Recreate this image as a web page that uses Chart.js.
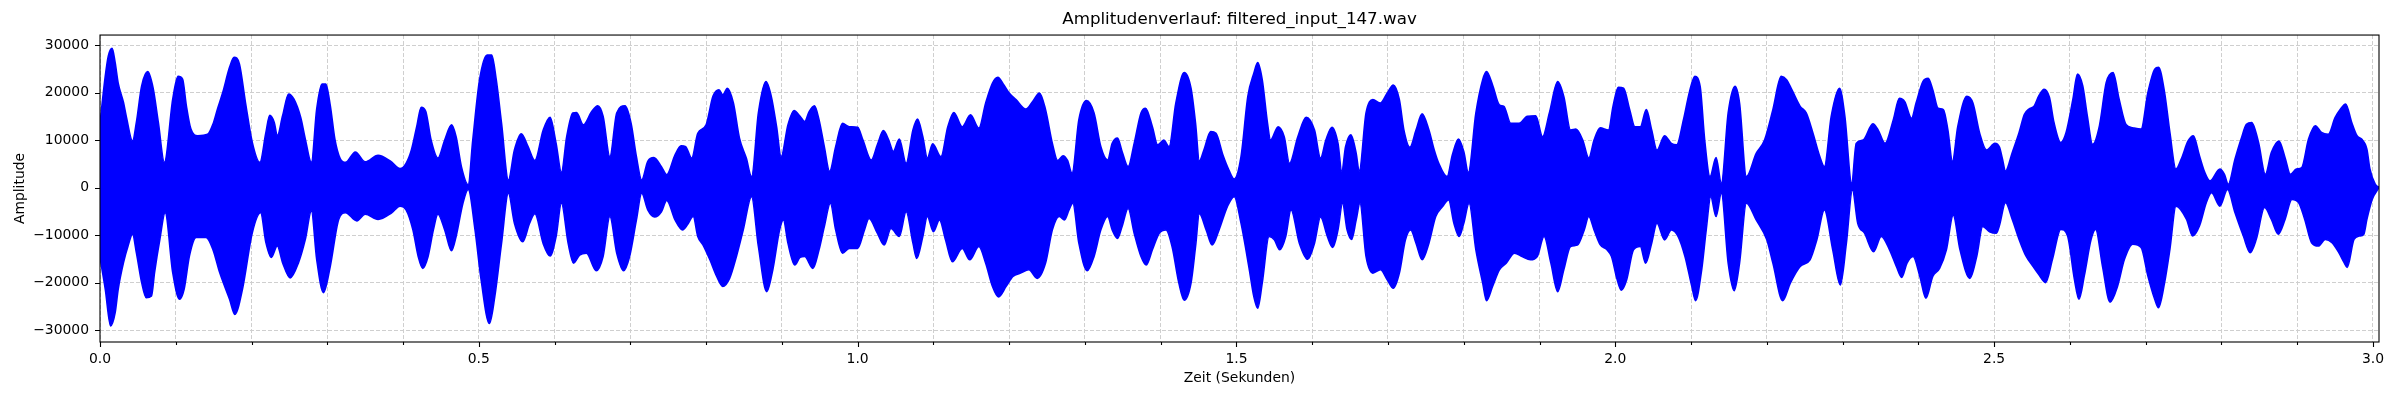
<!DOCTYPE html>
<html>
<head>
<meta charset="utf-8">
<title>Amplitudenverlauf</title>
<script src="https://cdn.jsdelivr.net/npm/chart.js@4.4.1/dist/chart.umd.min.js"></script>
<style>
  html, body { margin: 0; padding: 0; background: #fff; }
  #wrap { width: 2400px; height: 400px; }
</style>
</head>
<body>
<div id="wrap"><canvas id="waveChart" width="2400" height="400"></canvas></div>
<script>
// envelope of the waveform (seconds / amplitude)
const upperTimes = [
  0.000, 0.007, 0.011, 0.016, 0.020, 0.024, 0.031, 0.035, 0.043, 0.048, 0.055, 0.063, 0.070, 0.077, 0.085,
  0.096, 0.103, 0.109, 0.114, 0.120, 0.129, 0.142, 0.149, 0.155, 0.162, 0.171, 0.177, 0.184, 0.192, 0.201,
  0.211, 0.219, 0.224, 0.230, 0.234, 0.241, 0.249, 0.256, 0.265, 0.271, 0.279, 0.286, 0.293, 0.298, 0.304,
  0.310, 0.317, 0.324, 0.337, 0.350, 0.367, 0.383, 0.396, 0.404, 0.411, 0.418, 0.424, 0.430, 0.437, 0.446,
  0.455, 0.464, 0.470, 0.477, 0.486, 0.492, 0.501, 0.511, 0.517, 0.523, 0.530, 0.539, 0.547, 0.556, 0.565,
  0.574, 0.585, 0.594, 0.602, 0.609, 0.616, 0.624, 0.629, 0.638, 0.649, 0.657, 0.664, 0.673, 0.682, 0.693,
  0.701, 0.708, 0.715, 0.723, 0.731, 0.741, 0.748, 0.759, 0.767, 0.773, 0.781, 0.789, 0.800, 0.809, 0.817,
  0.822, 0.828, 0.836, 0.844, 0.853, 0.860, 0.869, 0.879, 0.886, 0.893, 0.899, 0.908, 0.916, 0.924, 0.930,
  0.936, 0.943, 0.949, 0.956, 0.963, 0.971, 0.980, 0.989, 1.000, 1.007, 1.018, 1.026, 1.034, 1.041, 1.047,
  1.055, 1.064, 1.073, 1.079, 1.086, 1.092, 1.099, 1.110, 1.119, 1.127, 1.138, 1.149, 1.160, 1.169, 1.178,
  1.185, 1.193, 1.200, 1.209, 1.222, 1.231, 1.240, 1.248, 1.257, 1.264, 1.271, 1.277, 1.283, 1.292, 1.302,
  1.312, 1.321, 1.330, 1.336, 1.343, 1.349, 1.357, 1.365, 1.374, 1.380, 1.389, 1.396, 1.404, 1.411, 1.420,
  1.431, 1.440, 1.446, 1.451, 1.457, 1.466, 1.473, 1.482, 1.490, 1.497, 1.506, 1.515, 1.523, 1.528, 1.534,
  1.541, 1.545, 1.555, 1.563, 1.570, 1.581, 1.592, 1.603, 1.611, 1.618, 1.626, 1.634, 1.639, 1.644, 1.651,
  1.658, 1.662, 1.671, 1.680, 1.690, 1.699, 1.707, 1.715, 1.721, 1.729, 1.737, 1.745, 1.754, 1.761, 1.767,
  1.778, 1.785, 1.793, 1.800, 1.806, 1.816, 1.825, 1.830, 1.838, 1.847, 1.853, 1.862, 1.873, 1.884, 1.895,
  1.904, 1.913, 1.924, 1.932, 1.941, 1.948, 1.957, 1.965, 1.972, 1.980, 1.991, 1.997, 2.004, 2.011, 2.019,
  2.026, 2.033, 2.041, 2.048, 2.055, 2.065, 2.074, 2.081, 2.090, 2.098, 2.105, 2.112, 2.118, 2.125, 2.133,
  2.140, 2.149, 2.158, 2.164, 2.173, 2.186, 2.197, 2.208, 2.219, 2.226, 2.233, 2.244, 2.252, 2.261, 2.270,
  2.276, 2.285, 2.296, 2.303, 2.312, 2.318, 2.327, 2.340, 2.347, 2.356, 2.367, 2.375, 2.382, 2.391, 2.397,
  2.406, 2.413, 2.419, 2.426, 2.433, 2.439, 2.445, 2.452, 2.464, 2.472, 2.481, 2.490, 2.501, 2.507, 2.511,
  2.515, 2.524, 2.533, 2.540, 2.546, 2.553, 2.559, 2.566, 2.573, 2.579, 2.588, 2.595, 2.604, 2.610, 2.617,
  2.623, 2.630, 2.639, 2.648, 2.657, 2.665, 2.674, 2.683, 2.694, 2.703, 2.712, 2.717, 2.725, 2.732, 2.740,
  2.747, 2.756, 2.763, 2.771, 2.778, 2.785, 2.798, 2.804, 2.809, 2.818, 2.826, 2.833, 2.840, 2.849, 2.858,
  2.866, 2.876, 2.884, 2.891, 2.899, 2.906, 2.915, 2.924, 2.932, 2.941, 2.950, 2.957, 2.964, 2.972, 2.979,
  2.985, 2.992, 2.996, 3.003, 3.008
];
const upperAmp = [
  13500, 23500, 27700, 29300, 26300, 22000, 17900, 14700, 9800, 13700, 21400, 24400, 21000, 13700, 5300,
  18600, 23400, 22800, 17200, 12300, 10900, 11200, 13300, 16500, 20000, 25300, 27400, 26000, 17900, 9500,
  5300, 11600, 15200, 13700, 10900, 15100, 19700, 18600, 14700, 10200, 5300, 16500, 21800, 21800, 17200,
  10200, 6100, 5300, 7500, 5400, 6800, 5600, 4000, 5100, 7900, 12800, 16900, 16000, 10000, 6200,
  10000, 13200, 10700, 4400, 600, 10000, 22700, 27900, 27900, 22700, 13500, 1600, 7900, 11300, 8600,
  5700, 12100, 14800, 9300, 3200, 10700, 15700, 15800, 13200, 16000, 17200, 15000, 6500, 15700, 17200,
  13500, 6500, 1600, 5500, 6300, 4400, 2700, 6900, 8800, 8600, 6200, 11400, 13200, 19200, 20600,
  19500, 20900, 17800, 10400, 6200, 2300, 15700, 22300, 19200, 12800, 6500, 13200, 16200, 15000, 13900,
  16000, 17200, 14300, 8600, 3400, 8600, 13500, 12800, 12700, 10000, 5800, 9000, 12000, 10000, 7600,
  10200, 5100, 12100, 14400, 10700, 6200, 9200, 6500, 12800, 15800, 12800, 15300, 12500, 17800, 22000,
  23200, 21600, 19900, 18500, 16500, 18100, 19900, 16400, 9300, 5700, 6700, 5700, 3000, 14300, 18300,
  15700, 8600, 5800, 9300, 10400, 7600, 4400, 9300, 15700, 16700, 12800, 9000, 10000, 8600, 17800,
  24200, 20900, 13500, 5600, 7900, 11800, 11400, 6900, 3700, 1800, 6500, 19200, 24100, 26300, 22700,
  13500, 10000, 12800, 10700, 5100, 10700, 14800, 12100, 6200, 10000, 12700, 9300, 3400, 8600, 11100,
  7200, 3400, 15700, 18500, 17800, 19900, 21600, 18500, 12100, 8500, 12100, 15500, 12100, 7900, 5100,
  2300, 6900, 10200, 7600, 3200, 15700, 22700, 24400, 21600, 17400, 17100, 13500, 13500, 15000, 15100,
  10700, 15700, 22300, 19200, 12100, 12300, 10000, 6200, 10000, 12600, 12100, 17100, 21100, 20900, 16400,
  12800, 12800, 16400, 12100, 7900, 10900, 9300, 9000, 14300, 20200, 23400, 21300, 10000, 2300, 6300,
  900, 15700, 21300, 17800, 2300, 7200, 10000, 16400, 23400, 22700, 20600, 17100, 15700, 11400, 6500,
  4400, 15000, 20900, 15000, 900, 9300, 10000, 13400, 12100, 9300, 14300, 18800, 18100, 14600, 17800,
  22300, 23000, 20600, 16700, 16400, 12100, 5500, 12800, 19200, 17800, 11400, 7900, 9300, 8500, 6000,
  3500, 7400, 11600, 15400, 16500, 17200, 19300, 20700, 19000, 13700, 9500, 11600, 18600, 23900, 21400,
  15100, 9100, 13000, 22100, 24200, 18600, 13300, 12600, 12300, 20000, 24900, 25300, 20000, 11600, 3900,
  6000, 9800, 10900, 6700, 3200, 1400, 3900, 2800, 700, 6000, 10200, 13300, 13700, 9500, 2800,
  7400, 9800, 6300, 2800, 3900, 4200, 10200, 13000, 11600, 11200, 14700, 16500, 17600, 13700, 10900,
  10200, 8100, 3900, 700, 0
];
const lowerTimes = [
  0.000, 0.007, 0.014, 0.020, 0.024, 0.031, 0.037, 0.043, 0.048, 0.055, 0.061, 0.068, 0.072, 0.079, 0.086,
  0.096, 0.105, 0.111, 0.118, 0.127, 0.140, 0.149, 0.158, 0.171, 0.178, 0.188, 0.201, 0.212, 0.219, 0.226,
  0.234, 0.241, 0.251, 0.262, 0.271, 0.279, 0.286, 0.295, 0.304, 0.315, 0.324, 0.339, 0.350, 0.367, 0.385,
  0.396, 0.404, 0.413, 0.420, 0.426, 0.433, 0.440, 0.446, 0.455, 0.464, 0.470, 0.479, 0.486, 0.495, 0.503,
  0.514, 0.521, 0.530, 0.539, 0.547, 0.558, 0.567, 0.574, 0.585, 0.594, 0.602, 0.609, 0.618, 0.625, 0.633,
  0.642, 0.655, 0.664, 0.673, 0.682, 0.691, 0.699, 0.708, 0.715, 0.723, 0.732, 0.741, 0.748, 0.759, 0.769,
  0.775, 0.783, 0.789, 0.796, 0.805, 0.814, 0.822, 0.831, 0.840, 0.849, 0.860, 0.869, 0.880, 0.888, 0.897,
  0.902, 0.908, 0.917, 0.924, 0.930, 0.941, 0.949, 0.956, 0.964, 0.971, 0.980, 0.989, 1.000, 1.009, 1.015,
  1.026, 1.035, 1.044, 1.055, 1.064, 1.073, 1.078, 1.086, 1.092, 1.100, 1.108, 1.116, 1.125, 1.138, 1.148,
  1.160, 1.169, 1.178, 1.186, 1.196, 1.205, 1.215, 1.226, 1.237, 1.248, 1.257, 1.266, 1.273, 1.279, 1.284,
  1.292, 1.303, 1.312, 1.321, 1.330, 1.336, 1.343, 1.349, 1.357, 1.365, 1.374, 1.381, 1.389, 1.398, 1.407,
  1.415, 1.424, 1.431, 1.440, 1.446, 1.451, 1.460, 1.468, 1.477, 1.488, 1.497, 1.506, 1.517, 1.523, 1.528,
  1.534, 1.543, 1.550, 1.557, 1.565, 1.572, 1.583, 1.594, 1.603, 1.611, 1.620, 1.627, 1.634, 1.640, 1.646,
  1.652, 1.658, 1.663, 1.671, 1.680, 1.690, 1.699, 1.707, 1.715, 1.723, 1.730, 1.737, 1.745, 1.754, 1.763,
  1.772, 1.780, 1.787, 1.794, 1.800, 1.807, 1.816, 1.825, 1.830, 1.838, 1.847, 1.856, 1.867, 1.877, 1.888,
  1.897, 1.906, 1.915, 1.924, 1.932, 1.941, 1.950, 1.959, 1.965, 1.972, 1.980, 1.989, 1.995, 2.002, 2.008,
  2.015, 2.024, 2.033, 2.040, 2.048, 2.055, 2.065, 2.074, 2.083, 2.092, 2.101, 2.106, 2.114, 2.120, 2.126,
  2.133, 2.140, 2.149, 2.157, 2.164, 2.173, 2.186, 2.200, 2.208, 2.221, 2.231, 2.244, 2.257, 2.266, 2.276,
  2.287, 2.297, 2.305, 2.313, 2.320, 2.329, 2.341, 2.351, 2.362, 2.371, 2.378, 2.385, 2.393, 2.402, 2.410,
  2.419, 2.428, 2.437, 2.446, 2.455, 2.468, 2.477, 2.485, 2.494, 2.503, 2.507, 2.515, 2.524, 2.533, 2.542,
  2.551, 2.559, 2.568, 2.577, 2.588, 2.597, 2.606, 2.612, 2.619, 2.628, 2.634, 2.643, 2.653, 2.663, 2.672,
  2.683, 2.694, 2.703, 2.712, 2.717, 2.725, 2.732, 2.740, 2.754, 2.762, 2.771, 2.780, 2.787, 2.798, 2.808,
  2.818, 2.829, 2.838, 2.846, 2.857, 2.866, 2.875, 2.884, 2.893, 2.902, 2.910, 2.919, 2.928, 2.937, 2.946,
  2.955, 2.962, 2.966, 2.975, 2.982, 2.988, 2.992, 2.999, 3.008
];
const lowerAmp = [
  -14700, -21400, -29100, -26300, -21400, -15800, -12300, -9800, -13700, -20000, -23200, -22800, -17900, -10900, -5300,
  -17900, -23500, -21400, -14400, -10500, -10500, -13000, -17900, -23500, -26700, -21400, -9500, -5300, -11600, -14700,
  -12300, -15800, -19000, -15800, -10900, -4900, -15100, -22100, -16500, -6700, -5300, -7000, -5600, -6700, -5300,
  -3900, -4700, -8900, -14500, -17000, -14500, -8900, -5600, -8900, -13300, -10300, -3300, -400, -8900, -19400,
  -28600, -23000, -11700, -1200, -7500, -11400, -7500, -5500, -11800, -14400, -10300, -3300, -11800, -15900, -14200,
  -13800, -17500, -14500, -6100, -13800, -17500, -14500, -6800, -1200, -4700, -6200, -5100, -2700, -6800, -8900,
  -7900, -6100, -10300, -12100, -15200, -18700, -20800, -19100, -14500, -8900, -1900, -12400, -21900, -17300, -8900,
  -6800, -11700, -16300, -14700, -14500, -17000, -13100, -8200, -3300, -8900, -13800, -12800, -12800, -8900, -6500,
  -9600, -12100, -8600, -10300, -5100, -11700, -14900, -10300, -6100, -9300, -6800, -11000, -15600, -12800, -15200,
  -12400, -15900, -20800, -23000, -20800, -18700, -18000, -17300, -19100, -15900, -8900, -6100, -6800, -4700, -3300,
  -11700, -17500, -14500, -8900, -6100, -8900, -10700, -8200, -4400, -9600, -14500, -16300, -13100, -9600, -8900,
  -12400, -20100, -23700, -20100, -12400, -5500, -8900, -12100, -8900, -4000, -1900, -7500, -17300, -23000, -25400,
  -20100, -10300, -11000, -13100, -10300, -4700, -11700, -15100, -11700, -6200, -10300, -12600, -8900, -3300, -8900,
  -10900, -6800, -3300, -14500, -18000, -17300, -19400, -21200, -18000, -11000, -8900, -11700, -15200, -11700, -6100,
  -4000, -2600, -7500, -10300, -7500, -3300, -13100, -20100, -23800, -20800, -17300, -15900, -13800, -14500, -15200,
  -14500, -10300, -15900, -21900, -17300, -12400, -12100, -8900, -6100, -8900, -12000, -13100, -14500, -19100, -21600,
  -19400, -13100, -12400, -15900, -11700, -7500, -11000, -8900, -10300, -14500, -20800, -23800, -17300, -8900, -1900,
  -6100, -1200, -15900, -21700, -15900, -3300, -6800, -11000, -15900, -23800, -20100, -16600, -15200, -11000, -4700,
  -13100, -20500, -11700, -500, -7500, -9600, -13500, -10300, -13100, -16600, -18900, -15900, -14500, -18700, -23300,
  -18700, -17000, -13100, -5800, -13100, -19100, -14500, -8200, -9300, -9600, -8000, -3200, -6700, -10900, -14400,
  -16500, -18300, -20000, -15100, -8800, -10200, -19300, -23500, -18600, -10900, -8800, -16500, -24100, -20700, -15100,
  -11900, -12600, -18600, -23500, -25300, -20000, -13000, -3900, -6700, -10200, -8100, -3200, -1100, -3900, -400,
  -5300, -10200, -13700, -10900, -4200, -6700, -9800, -6700, -2500, -3200, -6700, -11600, -12300, -10900, -11600,
  -13700, -15800, -16800, -10900, -10200, -9800, -6700, -2500, 0
];

const chartTitle = 'Amplitudenverlauf: filtered_input_147.wav';
const xLabel = 'Zeit (Sekunden)';
const yLabel = 'Amplitude';
const xMax = 3.008;
const yMin = -32500;
const yMax = 32100;
const xMajorLabels = ['0.0', '0.5', '1.0', '1.5', '2.0', '2.5', '3.0'];
const xMinorStep = 0.1;
const yTickValues = [-30000, -20000, -10000, 0, 10000, 20000, 30000];

const xTickValues = [];
for (let i = 0; i <= 30; i++) xTickValues.push(Math.round(i * xMinorStep * 10) / 10);

const isMajor = v => Math.abs(v * 2 - Math.round(v * 2)) < 1e-6;
const toPoints = (ts, vs) => ts.map((t, i) => ({ x: t, y: vs[i] }));

const font = { family: 'DejaVu Sans', size: 13.9 };
const gridColor = '#cfcfcf';
const blue = '#0000ff';

// frame on all four sides plus outward tick marks (matplotlib look)
const frameTicks = {
  id: 'frameTicks',
  afterDraw(chart) {
    const { ctx, chartArea: a, scales: { x, y } } = chart;
    ctx.save();
    ctx.strokeStyle = '#000';
    ctx.lineWidth = 1.1;
    ctx.beginPath();
    x.ticks.forEach(t => {
      const px = Math.round(x.getPixelForValue(t.value)) + 0.5;
      ctx.moveTo(px, a.bottom);
      ctx.lineTo(px, a.bottom + (isMajor(t.value) ? 5 : 3));
    });
    y.ticks.forEach(t => {
      const py = Math.round(y.getPixelForValue(t.value)) + 0.5;
      ctx.moveTo(a.left - 5, py);
      ctx.lineTo(a.left, py);
    });
    ctx.stroke();
    ctx.strokeRect(a.left, a.top, a.right - a.left, a.bottom - a.top);
    ctx.restore();
  }
};

new Chart(document.getElementById('waveChart').getContext('2d'), {
  type: 'line',
  data: {
    datasets: [
      {
        data: toPoints(upperTimes, upperAmp),
        borderColor: blue, backgroundColor: blue, borderWidth: 1.6,
        pointRadius: 0, cubicInterpolationMode: 'monotone', fill: { value: -300 }
      },
      {
        data: toPoints(lowerTimes, lowerAmp),
        borderColor: blue, backgroundColor: blue, borderWidth: 1.6,
        pointRadius: 0, cubicInterpolationMode: 'monotone', fill: { value: 300 }
      }
    ]
  },
  options: {
    responsive: false,
    animation: false,
    devicePixelRatio: 1,
    layout: { padding: { top: 0, right: 21, bottom: 0, left: 0 } },
    plugins: {
      legend: { display: false },
      tooltip: { enabled: false },
      title: {
        display: true, text: chartTitle, fullSize: false, color: '#000',
        font: { family: 'DejaVu Sans', size: 16.7, weight: 'normal' },
        padding: { top: 10, bottom: 5 }
      }
    },
    scales: {
      x: {
        type: 'linear', min: 0, max: xMax,
        afterBuildTicks: s => { s.ticks = xTickValues.map(v => ({ value: v })); },
        afterFit: s => { s.height = 58; },
        ticks: {
          autoSkip: false, maxRotation: 0, padding: 9, color: '#000', font,
          callback: v => isMajor(v) ? xMajorLabels[Math.round(v * 2)] : ''
        },
        grid: { color: gridColor, lineWidth: 1, drawTicks: false },
        border: { display: false, dash: [4, 2] },
        title: { display: true, text: xLabel, color: '#000', font, padding: { top: 0, bottom: 13 } }
      },
      y: {
        type: 'linear', min: yMin, max: yMax,
        afterBuildTicks: s => { s.ticks = yTickValues.map(v => ({ value: v })); },
        afterFit: s => { s.width = 100; },
        ticks: {
          padding: 11, color: '#000', font,
          callback: v => v < 0 ? '\u2212' + Math.abs(v) : String(v)
        },
        grid: { color: gridColor, lineWidth: 1, drawTicks: false },
        border: { display: false, dash: [4, 2] },
        title: { display: true, text: yLabel, color: '#000', font, padding: { top: 12, bottom: 0 } }
      }
    }
  },
  plugins: [frameTicks]
});
</script>
</body>
</html>
